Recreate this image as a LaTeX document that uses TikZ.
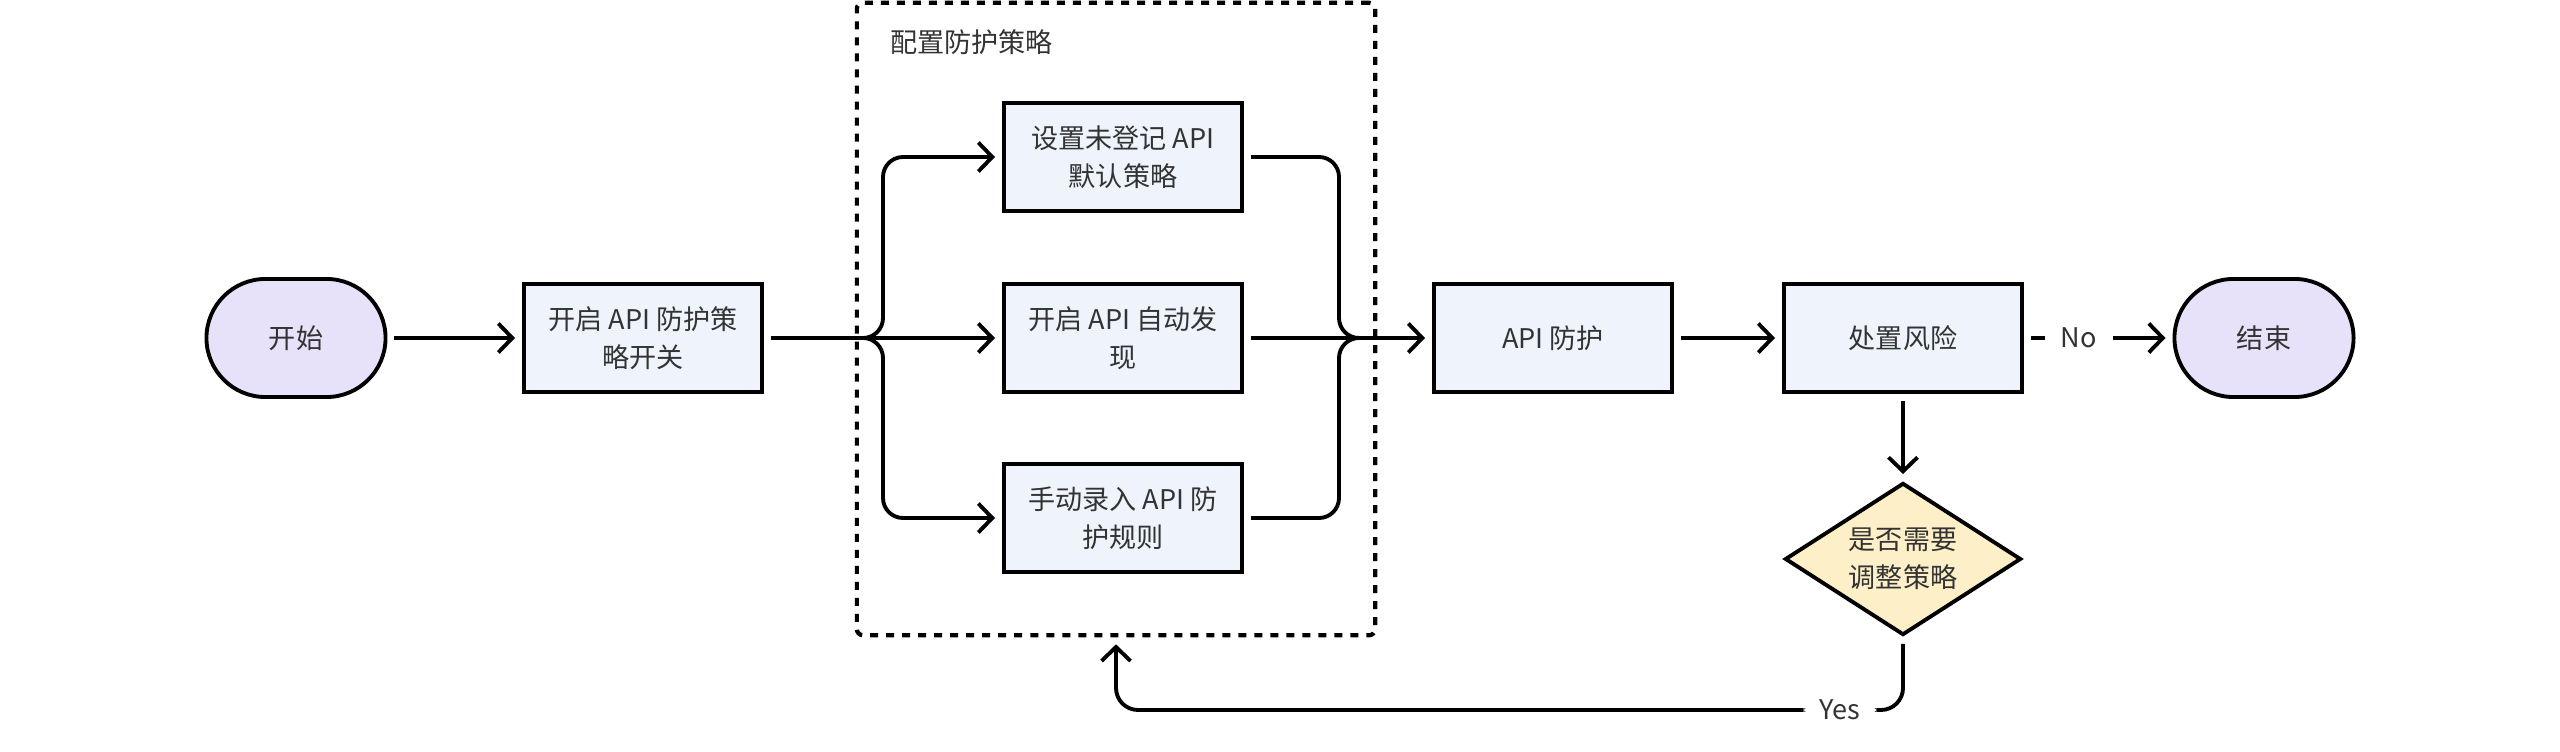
\documentclass[tikz,border=0pt]{standalone}
\usepackage{fontspec}
\setmainfont{Noto Sans CJK SC}
\usetikzlibrary{arrows.meta,positioning,shapes.geometric}
\definecolor{startfill}{RGB}{232,225,250}
\definecolor{stepfill}{RGB}{238,243,252}
\definecolor{decisionfill}{RGB}{253,239,200}
\definecolor{textgray}{RGB}{51,51,51}
\tikzset{
  every node/.style={font=\fontsize{7.7pt}{10.7pt}\selectfont,text=textgray},
  terminal/.style={draw,line width=1.1pt,fill=startfill,rounded corners=0.59cm,minimum width=1.79cm,minimum height=1.18cm},
  stepbox/.style={draw,line width=1.1pt,fill=stepfill,minimum width=2.38cm,minimum height=1.08cm,align=center},
  decision/.style={diamond,draw,line width=1.1pt,fill=decisionfill,aspect=1.55,inner sep=0pt,minimum width=2.36cm,minimum height=1.52cm,align=center},
  groupbox/.style={draw,line width=1.2pt,dash pattern=on 0.08cm off 0.08cm,rounded corners=0.06cm,minimum width=5.18cm,minimum height=6.32cm},
  wire/.style={line width=1.1pt},
  link/.style={->,line width=1.1pt,shorten <=0.07cm,shorten >=0.07cm},
  tag/.style={fill=white,inner xsep=0.16cm,inner ysep=0.05cm}
}
\begin{document}
\begin{tikzpicture}[x=0.01cm,y=-0.01cm,>={Straight Barb[length=0.14cm,width=0.29cm]}]
  \useasboundingbox (0,0) rectangle (2560,752);
  \node[groupbox] (group) at (1116,319) {};
  \node[anchor=west] (grouptitle) at (878,42) {配置防护策略};
  \node[terminal] (start) at (296,338) {开始};
  \node[stepbox] (enable) at (643,338) {开启 API 防护策\\略开关};
  \node[stepbox] (unreg) at (1123,157) {设置未登记 API\\默认策略};
  \node[stepbox] (autodisc) at (1123,338) {开启 API 自动发\\现};
  \node[stepbox] (manual) at (1123,518) {手动录入 API 防\\护规则};
  \node[stepbox] (protect) at (1553,338) {API 防护};
  \node[stepbox] (handle) at (1903,338) {处置风险};
  \node[terminal] (stop) at (2264,338) {结束};
  \node[decision] (adjust) at (1903,559) {是否需要\\调整策略};
  \coordinate (fork) at (860,338);
  \coordinate (forkbend) at (883,338);
  \coordinate (joinbend) at (1339,338);
  \coordinate (join) at (1360,338);
  \coordinate (loop) at (1116,710);
  \draw[link] (start) -- (enable);
  \draw[wire,shorten <=0.07cm] (enable) -- (fork);
  \draw[link,shorten <=0pt,rounded corners=0.2cm] (fork) -- (forkbend) |- (unreg.west);
  \draw[link,shorten <=0pt] (fork) -- (autodisc);
  \draw[link,shorten <=0pt,rounded corners=0.2cm] (fork) -- (forkbend) |- (manual.west);
  \draw[wire,shorten <=0.07cm,rounded corners=0.2cm] (unreg.east) -| (joinbend) -- (join);
  \draw[wire,shorten <=0.07cm,rounded corners=0.2cm] (manual.east) -| (joinbend) -- (join);
  \draw[link] (autodisc) -- (protect);
  \draw[link] (protect) -- (handle);
  \draw[link] (handle) -- node[tag,pos=0.37]{No} (stop);
  \draw[link] (handle) -- (adjust);
  \draw[link,rounded corners=0.22cm] (adjust) |- node[tag,pos=0.54]{Yes} (loop) -- (group.south);
\end{tikzpicture}
\end{document}
